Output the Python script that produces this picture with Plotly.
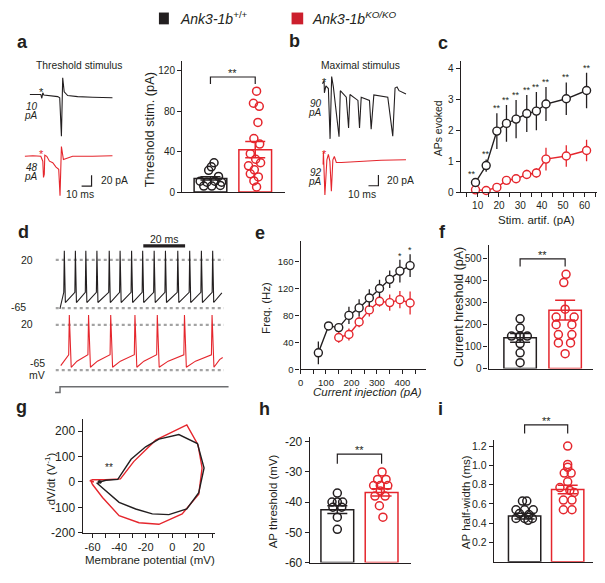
import plotly.graph_objects as go

W, H = 605, 583
BLACK = '#231f20'
RED = '#e5262d'
LEG_RED = '#cc1f2d'
GRAY = '#a3a3a3'
STEP_GRAY = '#6d6e71'
FONT = 'Liberation Sans, Arial, Helvetica, sans-serif'

# ------------------------------------------------------------------ DATA
group_names = ['Ank3-1b+/+', 'Ank3-1bKO/KO']

# a: example responses at threshold stimulus (time ms, current pA)
a_wt_t = [7, 15, 18, 19, 20, 21, 28, 35, 37, 38.7, 40, 41.5, 45, 55, 70, 90]
a_wt_i = [2, 3, 2, -5, 5, 1, 0, -2, -4, -75, 33, 7, 0, -2, -3, -4]
a_ko_t = [2, 10, 18, 20, 20.7, 21.5, 22, 24, 26.7, 30, 33.3, 36, 37.3, 38.7, 40.7, 45, 50, 70, 90]
a_ko_i = [0, 1, 0, -9, -39, -33, 2, 0, -9, -12, -20, -24, -73, 18, -6, -3, 0, 0, 1]
a_stim_labels = ['10', '48']

# a: threshold stimulus bar graph (pA)
a_means = [13.5, 42]
a_sem = [1.7, 8]
a_wt_pts = [29, 25, 21.5, 15.5, 10.7, 9.8, 10.7, 9.8, 5.9, 5.9, 6.5]
a_ko_pts = [100, 88, 85, 69, 53, 47.5, 38, 32.5, 29, 26, 22, 18, 15, 11, 5]

# b: example responses at maximal stimulus
b_wt_t = [6, 7.7, 8, 9.5, 12, 13.7, 15.3, 17, 22.7, 24, 30, 32.3, 33.7, 41.7, 43.3, 45,
          53.3, 55, 57.7, 71.7, 76.7, 79, 81, 83, 90]
b_wt_i = [22, 27, 5, 18, 13, -80, 35, 16, -76, 9, -3, -60, 2, -9, -60, -3,
          -9, -62, 1, -3, -75, 14, 16, 9, 3]
b_ko_t = [6.7, 7, 8.5, 10.5, 12, 13.5, 15, 16.5, 18, 20, 25, 45, 65, 90]
b_ko_i = [-4, 20, -60, 5, 15, 2, -53, 5, 11, 0, 0, 2, 4, 5]
b_stim_labels = ['90', '92']

SCALE_MS = 10
SCALE_PA = 20

# c: APs evoked vs stimulus artefact
c_x = [9, 14, 19, 23.5, 28, 33, 37.5, 42, 51.5, 61]
c_wt = [0.31, 0.86, 1.98, 2.23, 2.37, 2.55, 2.63, 2.86, 3.03, 3.30]
c_wt_err = [0.08, 0.2, 0.58, 0.6, 0.62, 0.6, 0.62, 0.55, 0.53, 0.58]
c_ko = [0.07, 0.05, 0.15, 0.38, 0.43, 0.57, 0.62, 1.07, 1.17, 1.35]
c_ko_err = [0.05, 0.05, 0.07, 0.12, 0.12, 0.15, 0.15, 0.37, 0.35, 0.35]

# d: spike trains (spike times in ms, membrane potential levels in mV)
d_wt_spikes = [2.2, 7.5, 12.5, 17.8, 23.7, 28.9, 34.4, 39.7, 45.2, 50.6, 56.5, 62.2, 67.8, 73.2]
d_wt_levels = [-66, -37, 36, -55, -38]        # start, pre-spike, peak, trough, end
d_ko_spikes = [4.6, 13.8, 24.4, 36.0, 46.7, 59.7, 72.9]
d_ko_levels = [-56.5, -36, 38.5, -59.5, -48, -41]   # start, pre, peak, trough, mid-ramp, end
d_ref_mv = [20, -65]
d_ref_labels = ['20', '-65']
d_step_t = [-2.2, 0.15, 0.15, 80.8]
d_step_v = [0.22, 0.22, 0.62, 0.62]
D_SCALE_MS = 20

# e: firing frequency vs injected current
e_x_wt = [70, 110, 150, 190, 230, 270, 310, 350, 390, 430]
e_wt = [24.5, 64.6, 62.1, 80.3, 91.5, 106.2, 120.4, 134.1, 146.4, 154.6]
e_wt_err = [17, 5, 6, 13, 13, 13, 13, 13, 17, 17]
e_x_ko = [150, 190, 230, 270, 310, 350, 390, 430]
e_ko = [47.4, 51.8, 70.5, 88.5, 101.3, 99.4, 103.8, 98.8]
e_ko_err = [8, 9, 8, 10, 8, 12, 13, 17]

# f: current threshold (pA)
f_means = [140, 266]
f_sem = [20, 45]
f_wt_pts = [227, 185, 148, 148, 148, 114, 72, 27]
f_ko_pts = [430, 392, 271, 235, 235, 200, 200, 155, 155, 117, 117, 68]

# g: phase plots (membrane potential mV, dV/dt)
g_wt_v = [-56, -55, -53, -54, -56, -50, -41, -31, -20, -10, 5, 19, 24, 20, 11, -2.5, -15, -27.5, -40, -55, -57]
g_wt_d = [0, 5, 2, -4, -2, 7, 10, 89, 138, 168, 186, 151, 55, -42, -106, -128, -125, -106, -80, -10, -3]
g_ko_v = [-59, -62, -60, -50, -39, -29, -12.5, 11, 19.5, 22.5, 20, 7.5, -10, -25, -40, -52.5, -60, -61]
g_ko_d = [0, 5, 9, 9, 12, 80, 164, 224, 145, 55, -48, -125, -166, -160, -132, -61, -10, 0]

# h: AP threshold (mV)
h_means = [-42.5, -36.8]
h_sem = [1.3, 1.2]
h_wt_pts = [-37, -40, -40, -40, -41.7, -41.7, -45, -49]
h_ko_pts = [-30, -32.5, -32.5, -34.5, -34.5, -34.5, -36.3, -38, -38, -41.2, -45]

# i: AP half-width (ms)
i_means = [0.475, 0.75]
i_sem = [0.03, 0.045]
i_wt_pts = [0.63, 0.63, 0.54, 0.54, 0.54, 0.50, 0.49, 0.45, 0.45, 0.45, 0.43]
i_ko_pts = [1.2, 1.01, 0.98, 0.92, 0.92, 0.83, 0.77, 0.74, 0.72, 0.64, 0.64, 0.54, 0.54]

# tick values / labels
g_xticks = [-60, -50, -40, -30, -20, -10, 0, 10, 20, 30]
g_xlabels = ['-60', '', '-40', '', '-20', '', '0', '', '20', '']
g_yticks = [-200, -100, 0, 100, 200]
g_ylabels = ['-200', '-100', '0', '100', '200']
h_yticks = [-60, -50, -40, -30, -20]
h_ylabels = ['-60', '-50', '-40', '-30', '-20']

# horizontal jitter of the individual points (category units)
a_wt_off = [0.08, 0.02, -0.04, 0.18, -0.23, -0.08, 0.1, 0.25, -0.15, 0.03, 0.22]
a_ko_off = [0.03, -0.04, 0.09, 0.06, -0.03, 0.1, -0.11, 0.01, 0.12, -0.15, -0.02, -0.11, 0.07, -0.03, 0.03]
f_wt_off = [0, 0, -0.19, 0.0, 0.16, 0, 0, 0]
f_ko_off = [0.02, -0.03, 0, -0.2, 0.2, -0.2, 0.15, -0.15, 0.15, -0.15, 0.12, 0]
h_wt_off = [0, -0.12, 0.0, 0.12, -0.1, 0.1, 0, 0]
h_ko_off = [0.01, -0.09, 0.1, -0.18, -0.03, 0.14, -0.03, -0.15, 0.08, -0.05, 0.03]
i_wt_off = [-0.05, 0.05, -0.2, 0.0, 0.2, -0.12, 0.1, -0.2, 0.0, 0.18, 0.08]
i_ko_off = [0, 0, 0, -0.08, 0.08, 0, -0.18, 0.05, 0.15, -0.1, 0.1, -0.1, 0.1]

# ------------------------------------------------------------------ FIGURE
fig = go.Figure()
layout = dict(width=W, height=H, margin=dict(l=0, r=0, t=0, b=0),
              paper_bgcolor='white', plot_bgcolor='rgba(0,0,0,0)', showlegend=False,
              barmode='overlay', font=dict(family=FONT, color=BLACK, size=10))
annotations = []
shapes = []


def refs(n):
    return ('x' if n == 1 else f'x{n}'), ('y' if n == 1 else f'y{n}')


def axis_style(size=10):
    return dict(showline=True, linecolor=BLACK, linewidth=1.2, ticks='outside', ticklen=4,
                tickwidth=1.2, tickcolor=BLACK, showgrid=False, zeroline=False,
                tickfont=dict(family=FONT, size=size, color=BLACK))


def set_axes(n, xpx, ypx, xr, yr, xo=None, yo=None):
    k = '' if n == 1 else str(n)
    xa = dict(domain=[xpx[0] / W, xpx[1] / W], range=xr, anchor='y' + k)
    ya = dict(domain=[1 - ypx[1] / H, 1 - ypx[0] / H], range=yr, anchor='x' + k)
    xa.update(xo or dict(visible=False))
    ya.update(yo or dict(visible=False))
    layout['xaxis' + k] = xa
    layout['yaxis' + k] = ya


def ptext(px, py, text, size=10, xanchor='center', yanchor='middle', angle=0, color=BLACK, pad=1):
    annotations.append(dict(x=px / W, y=1 - py / H, xref='paper', yref='paper', text=text,
                            showarrow=False, xanchor=xanchor, yanchor=yanchor, textangle=angle,
                            borderpad=pad, font=dict(family=FONT, size=size, color=color)))


def line(n, x, y, color, width=1.2, dash=None):
    xa, ya = refs(n)
    fig.add_trace(go.Scatter(x=x, y=y, mode='lines', xaxis=xa, yaxis=ya, cliponaxis=False,
                             line=dict(color=color, width=width, dash=dash), hoverinfo='skip'))


def bar_panel(n, means, sems, wt_pts, ko_pts, wt_off, ko_off, base, bar_w, br_top, br_low, br_n=None):
    xa, ya = refs(n)
    fig.add_trace(go.Bar(x=[0, 1], y=[m - base for m in means], base=[base, base], width=bar_w,
                         marker=dict(color='white', line=dict(color=[BLACK, RED], width=1.5)),
                         xaxis=xa, yaxis=ya, name='', hoverinfo='skip'))
    for k, (pts, off, col) in enumerate([(wt_pts, wt_off, BLACK), (ko_pts, ko_off, RED)]):
        fig.add_trace(go.Scatter(x=[k + o for o in off], y=pts, mode='markers', xaxis=xa, yaxis=ya,
                                 cliponaxis=False,
                                 marker=dict(symbol='circle-open', size=8, color=col,
                                             line=dict(width=1.5))))
        fig.add_trace(go.Scatter(x=[k], y=[means[k]], mode='markers', xaxis=xa, yaxis=ya,
                                 cliponaxis=False, marker=dict(size=1, color='rgba(0,0,0,0)'),
                                 error_y=dict(type='data', array=[sems[k]], color=col,
                                              thickness=1.5, width=10)))
    bn = br_n or n
    bxa, bya = refs(bn)
    line(bn, [0, 0, 1, 1], [br_low, br_top, br_top, br_low], BLACK, 1.2)
    annotations.append(dict(x=0.5, y=br_top, xref=bxa, yref=bya, text='**', showarrow=False,
                            yanchor='bottom', yshift=-4, font=dict(family=FONT, size=11, color=BLACK)))


bar_x = dict(showline=True, linecolor=BLACK, linewidth=1.2, ticks='', showticklabels=False,
             showgrid=False, zeroline=False)

# ---------------- panel a: traces
set_axes(2, (20, 120), (70, 145), [0, 100], [-90.9, 45.5])
set_axes(3, (20, 120), (145, 200), [0, 100], [-78.7, 21.3])
line(2, a_wt_t, a_wt_i, BLACK, 1.1)
line(3, a_ko_t, a_ko_i, RED, 1.1)
sb_t, sb_i = 69, -55
line(3, [sb_t - SCALE_MS, sb_t, sb_t], [sb_i, sb_i, sb_i + SCALE_PA], BLACK, 1.2)
ptext(76.5, 65, 'Threshold stimulus', 10.3)
ptext(38.3, 91, '*', 11)
ptext(39, 154.5, '*', 11, color=RED)
ptext(36, 106, '<i>%s</i>' % a_stim_labels[0], 10, xanchor='right', pad=0)
ptext(36, 115.5, '<i>pA</i>', 10, xanchor='right', pad=0)
ptext(36, 167.8, '<i>%s</i>' % a_stim_labels[1], 10, xanchor='right', pad=0)
ptext(36, 177.2, '<i>pA</i>', 10, xanchor='right', pad=0)
ptext(96, 181.5, '%d pA' % SCALE_PA, 10.3, xanchor='left')
ptext(77.5, 195.5, '%d ms' % SCALE_MS, 10.3)

# ---------------- panel a: bar graph
set_axes(1, (180, 283), (60, 193), [-0.633, 1.656], [0, 129.8],
         xo=bar_x, yo=dict(axis_style(10), tickvals=[0, 40, 80, 120]))
bar_panel(1, a_means, a_sem, a_wt_pts, a_ko_pts, a_wt_off, a_ko_off, 0, 0.73, 114, 107)
ptext(148, 130, 'Threshold stim. (pA)', 12.8, angle=-90)

# ---------------- panel b: traces
set_axes(4, (315, 415), (70, 145), [0, 100], [-90.9, 45.5])
set_axes(5, (315, 415), (145, 200), [0, 100], [-67.3, 32.7])
line(4, b_wt_t, b_wt_i, BLACK, 1.1)
line(5, b_ko_t, b_ko_i, RED, 1.1)
sb_t, sb_i = 62.3, -43
line(5, [sb_t - SCALE_MS, sb_t, sb_t], [sb_i, sb_i, sb_i + SCALE_PA], BLACK, 1.2)
ptext(359, 65, 'Maximal stimulus', 10.3)
ptext(323.3, 81, '*', 11)
ptext(323.3, 154.5, '*', 11, color=RED)
ptext(322, 103, '<i>%s</i>' % b_stim_labels[0], 10, xanchor='right', pad=0)
ptext(322, 112.2, '<i>pA</i>', 10, xanchor='right', pad=0)
ptext(322, 173, '<i>%s</i>' % b_stim_labels[1], 10, xanchor='right', pad=0)
ptext(322, 182.5, '<i>pA</i>', 10, xanchor='right', pad=0)
ptext(384, 181, '%d pA' % SCALE_PA, 10.3, xanchor='left')
ptext(361, 195.5, '%d ms' % SCALE_MS, 10.3)

# ---------------- panel c
set_axes(6, (460, 597), (60, 193), [2.08, 65.9], [0, 4.256],
         xo=dict(axis_style(10), tickvals=list(range(5, 66, 5)),
                 ticktext=['' if v % 10 else str(v) for v in range(5, 66, 5)]),
         yo=dict(axis_style(10), tickvals=[0, 1, 2, 3, 4]))
for xs, ys, es, col in [(c_x, c_ko, c_ko_err, RED), (c_x, c_wt, c_wt_err, BLACK)]:
    fig.add_trace(go.Scatter(x=xs, y=ys, mode='lines+markers', xaxis='x6', yaxis='y6', cliponaxis=False,
                             line=dict(color=col, width=1.4),
                             marker=dict(symbol='circle', size=8, color='white', line=dict(color=col, width=1.4)),
                             error_y=dict(type='data', array=es, color=col, thickness=1.3, width=0)))
for k in range(len(c_x)):
    if k == 0:
        annotations.append(dict(x=c_x[0] - 1.6, y=c_wt[0] + 0.12, xref='x6', yref='y6', text='**',
                                showarrow=False, yanchor='bottom', yshift=-2,
                                font=dict(family=FONT, size=9, color=BLACK)))
    else:
        annotations.append(dict(x=c_x[k], y=c_wt[k] + c_wt_err[k], xref='x6', yref='y6', text='**',
                                showarrow=False, yanchor='bottom', yshift=-2,
                                font=dict(family=FONT, size=9, color=BLACK)))
ptext(437.5, 128, 'APs evoked', 10.5, angle=-90)
ptext(536, 221, 'Stim. artif. (pA)', 11.5)

# ---------------- panel d
set_axes(7, (50, 230), (245, 318), [-3.33, 82.38], [-77.15, 49.5])
set_axes(8, (50, 230), (315, 380), [-3.33, 82.38], [-76.1, 44.0])
set_axes(9, (50, 230), (385, 400), [-3.33, 82.38], [0, 1])
for n in (7, 8):
    line(n, [-1.9, 78.6, None, -1.9, 78.6], [d_ref_mv[0], d_ref_mv[0], None, d_ref_mv[1], d_ref_mv[1]],
         GRAY, 2.2, dash='3px,3px')
# wild-type train
st, pre, pk, tr, en = d_wt_levels
dt, dv = [0.1], [st]
for ts in d_wt_spikes:
    dt += [ts - 0.25, ts, ts + 0.5]
    dv += [pre, pk, tr]
dt.append(77.6)
dv.append(en)
line(7, dt, dv, BLACK, 1.1)
# knock-out train
st, pre, pk, tr, mid, en = d_ko_levels
dt, dv = [0.5, d_ko_spikes[0] - 0.3], [st, pre]
for k, ts in enumerate(d_ko_spikes):
    dt += [ts, ts + 0.9]
    dv += [pk, tr]
    if k + 1 < len(d_ko_spikes):
        nxt = d_ko_spikes[k + 1]
        dt += [ts + 0.4 * (nxt - ts), nxt - 0.3]
        dv += [mid, pre]
dt += [76.5, 78]
dv += [mid + 3, en]
line(8, dt, dv, RED, 1.1)
line(9, d_step_t, d_step_v, STEP_GRAY, 1.5)
line(7, [40, 40 + D_SCALE_MS], [44.8, 44.8], BLACK, 3.2)
ptext(162, 241, '%d ms' % D_SCALE_MS, 10.5)
ptext(32.5, 262, d_ref_labels[0], 10.5, xanchor='right')
ptext(25.5, 310, d_ref_labels[1], 10.5, xanchor='right')
ptext(32.5, 327.3, d_ref_labels[0], 10.5, xanchor='right')
ptext(43.5, 366.8, d_ref_labels[1], 10.5, xanchor='right', pad=0)
ptext(43.5, 378.8, 'mV', 10.5, xanchor='right', pad=0)

# ---------------- panel e
set_axes(10, (299, 425), (243, 373), [0, 492], [0, 190.9],
         xo=dict(axis_style(9.5), tickvals=list(range(0, 451, 50)),
                 ticktext=[str(v) if v % 100 == 0 else '' for v in range(0, 451, 50)]),
         yo=dict(axis_style(9.5), tickvals=[0, 40, 80, 120, 160]))
for xs, ys, es, col in [(e_x_ko, e_ko, e_ko_err, RED), (e_x_wt, e_wt, e_wt_err, BLACK)]:
    fig.add_trace(go.Scatter(x=xs, y=ys, mode='lines+markers', xaxis='x10', yaxis='y10', cliponaxis=False,
                             line=dict(color=col, width=1.4),
                             marker=dict(symbol='circle', size=8, color='white', line=dict(color=col, width=1.4)),
                             error_y=dict(type='data', array=es, color=col, thickness=1.3, width=0)))
for k in (8, 9):
    annotations.append(dict(x=e_x_wt[k], y=e_wt[k] + e_wt_err[k], xref='x10', yref='y10', text='*',
                            showarrow=False, yanchor='bottom', yshift=-3,
                            font=dict(family=FONT, size=9, color=BLACK)))
ptext(265, 311, 'Freq. (Hz)', 11.5, angle=-90)
ptext(366, 396, '<i>Current injection (pA)</i>', 11.5)

# ---------------- panel f
set_axes(11, (488, 593), (247, 372.3), [-0.70, 1.62], [0, 562.6],
         xo=bar_x, yo=dict(axis_style(10), tickvals=[0, 100, 200, 300, 400, 500]))
bar_panel(11, f_means, f_sem, f_wt_pts, f_ko_pts, f_wt_off, f_ko_off, 0, 0.72, 500, 465)
ptext(458, 310, 'Current hreshold (pA)', 12.5, angle=-90)

# ---------------- panel g
set_axes(12, (80, 213), (423.3, 539.3), [-67.5, 32.2], [-200, 248],
         xo=dict(axis_style(11), tickvals=g_xticks, ticktext=g_xlabels),
         yo=dict(axis_style(12), tickvals=g_yticks, ticktext=g_ylabels))
line(12, g_ko_v, g_ko_d, RED, 1.4)
line(12, g_wt_v, g_wt_d, BLACK, 1.4)
annotations.append(dict(x=-47.5, y=55, xref='x12', yref='y12', text='**', showarrow=False,
                        font=dict(family=FONT, size=10, color=BLACK)))
ptext(47, 484, 'dV/dt (V<sup>-1</sup>)', 11.5, angle=-90)
ptext(147.5, 566.5, 'Membrane potential (mV)', 11.5, pad=0)

# ---------------- panel h
set_axes(13, (308.3, 410), (441.7, 569.3), [-0.622, 1.663], [-60, -18.4],
         xo=bar_x, yo=dict(axis_style(12), tickvals=h_yticks, ticktext=h_ylabels))
bar_panel(13, h_means, h_sem, h_wt_pts, h_ko_pts, h_wt_off, h_ko_off, -60, 0.74, -24.1, -27.3)
ptext(270.8, 506.7, 'AP threshold (mV)', 11.5, angle=-90)

# ---------------- panel i (axis 15 = hidden overlay with the same scale for the bracket)
set_axes(14, (493.3, 593), (445, 568.6), [-0.714, 1.589], [0, 1.262],
         xo=bar_x, yo=dict(axis_style(10.5), tickvals=[0.2, 0.4, 0.6, 0.8, 1.0, 1.2], tickformat='.1f'))
set_axes(15, (493.3, 593), (415, 568.6), [-0.714, 1.589], [0, 1.567])
bar_panel(14, i_means, i_sem, i_wt_pts, i_ko_pts, i_wt_off, i_ko_off, 0, 0.75, 1.42, 1.33, br_n=15)
ptext(464.8, 507.5, 'AP half-width (ms)', 11.5, angle=-90)

# ---------------- panel letters
for letter, px, py in [('a', 12.5, 41), ('b', 285, 40), ('c', 435.5, 41.5), ('d', 13, 234),
                       ('e', 251.5, 235), ('f', 436, 234), ('g', 11.5, 411), ('h', 255, 413),
                       ('i', 435, 413)]:
    ptext(px, py, '<b>%s</b>' % letter, 18, xanchor='left')

# ---------------- legend
shapes.append(dict(type='rect', xref='paper', yref='paper', x0=156.7 / W, x1=166.7 / W,
                   y0=1 - 22.7 / H, y1=1 - 10.7 / H, fillcolor=BLACK, line=dict(width=0)))
shapes.append(dict(type='rect', xref='paper', yref='paper', x0=290 / W, x1=301.7 / W,
                   y0=1 - 22.7 / H, y1=1 - 10.7 / H, fillcolor=LEG_RED, line=dict(width=0)))
ptext(176, 16.5, '<i>Ank3-1b</i><sup>+/+</sup>', 14, xanchor='left')
ptext(309, 16.5, '<i>Ank3-1b</i><sup><i>KO/KO</i></sup>', 14, xanchor='left')

layout['annotations'] = annotations
layout['shapes'] = shapes
fig.update_layout(**layout)
fig.write_html('out.html', config={'displayModeBar': False},
               post_script="document.body.style.margin='0px';")
